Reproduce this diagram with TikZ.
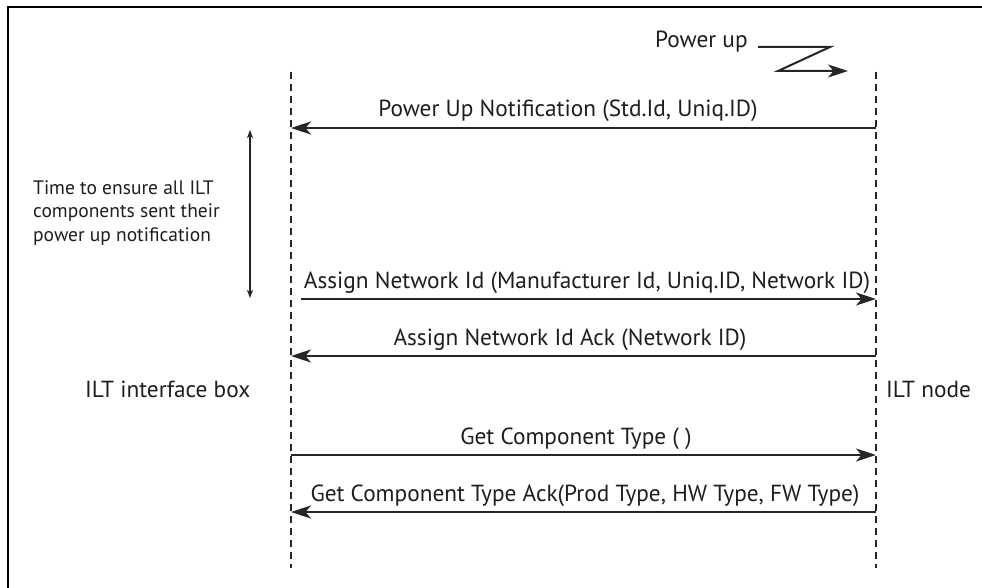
\documentclass[tikz,border=0pt]{standalone}
\usepackage{fontspec}
\setmainfont{PT Sans}
\usetikzlibrary{arrows.meta}
\definecolor{ink}{HTML}{1E1E1E}
\definecolor{wire}{HTML}{262626}
\begin{document}
\begin{tikzpicture}[x=1pt,y=-1pt,
  frame/.style={draw=black, line width=2.2pt},
  lifeline/.style={draw=wire, line width=1.5pt, dash pattern=on 7pt off 5pt},
  msg/.style={draw=wire, line width=2pt,
    -{Stealth[length=20pt,width=13pt,inset=5.5pt]}},
  span/.style={draw=wire, line width=1.2pt,
    {Stealth[length=8pt,width=6pt,inset=2pt]}-{Stealth[length=8pt,width=6pt,inset=2pt]}},
  lbl/.style={text=ink, inner sep=0pt, anchor=base,
    font=\fontsize{23.3}{28}\selectfont},
  side/.style={text=ink, inner sep=0pt, anchor=base west,
    font=\fontsize{23.3}{28}\selectfont},
  note/.style={text=ink, inner sep=0pt, anchor=north west, align=left,
    font=\fontsize{19.5}{23.5}\selectfont}]
\useasboundingbox (0,0) rectangle (982,588);

% open frame (left and top edges)
\draw[frame] (8,588) -- (8,7) -- (982,7);

% lifelines
\coordinate (ifTop) at (291,72);
\coordinate (ifBot) at (291,568);
\coordinate (ndTop) at (876,72);
\coordinate (ndBot) at (876,568);
\draw[lifeline] (ifTop) -- (ifBot);
\draw[lifeline] (ndTop) -- (ndBot);

\node[side] (ifName) at (85,397) {ILT interface box};
\node[side] (ndName) at (886,397) {ILT node};

% power-up trigger
\node[side] (pwr) at (655,48) {Power up};
\coordinate (z0) at (758,47);
\coordinate (z1) at (830,47);
\coordinate (z2) at (778,71);
\coordinate (z3) at (848,71);
\draw[msg, line join=miter] (z0) -- (z1) -- (z2) -- (z3);

% messages
\coordinate (m1s) at (876,128);
\coordinate (m1e) at (291,128);
\draw[msg] (m1s) -- (m1e);
\node[lbl] (t1) at (568,117) {Power Up Notification (Std.Id, Uniq.ID)};

\coordinate (m2s) at (301,299);
\coordinate (m2e) at (876,299);
\draw[msg] (m2s) -- (m2e);
\node[lbl] (t2) at (587,288) {Assign Network Id (Manufacturer Id, Uniq.ID, Network ID)};

\coordinate (m3s) at (876,356);
\coordinate (m3e) at (291,356);
\draw[msg] (m3s) -- (m3e);
\node[lbl] (t3) at (570,345) {Assign Network Id Ack (Network ID)};

\coordinate (m4s) at (291,455);
\coordinate (m4e) at (876,455);
\draw[msg] (m4s) -- (m4e);
\node[lbl] (t4) at (576,444) {Get Component Type ( )};

\coordinate (m5s) at (876,512);
\coordinate (m5e) at (291,512);
\draw[msg] (m5s) -- (m5e);
\node[lbl] (t5) at (585,501) {Get Component Type Ack(Prod Type, HW Type, FW Type)};

% waiting interval
\coordinate (wTop) at (250,130);
\coordinate (wBot) at (250,298);
\draw[span] (wTop) -- (wBot);
\node[note] (wait) at (33,180) {Time to ensure all ILT\\components sent their\\power up notification};
\end{tikzpicture}
\end{document}
